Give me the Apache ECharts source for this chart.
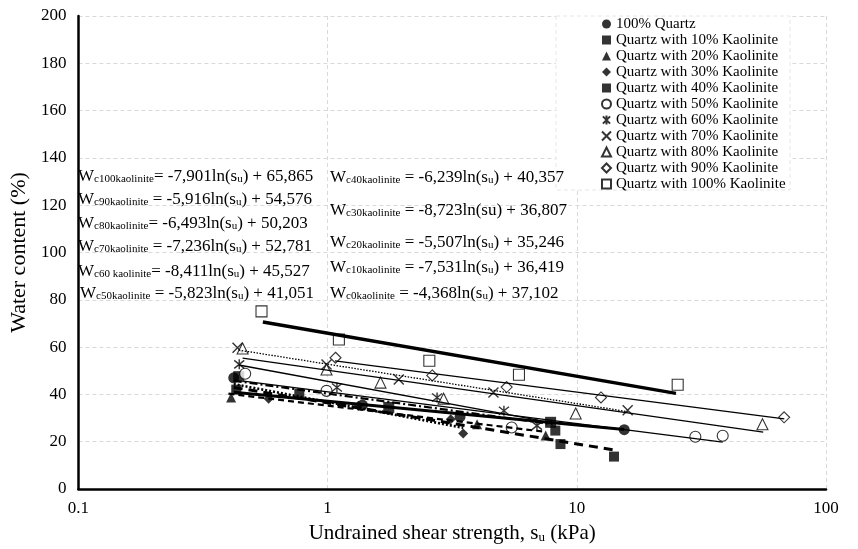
<!DOCTYPE html>
<html>
<head>
<meta charset="utf-8">
<script src="https://cdn.jsdelivr.net/npm/echarts@6/dist/echarts.min.js"></script>
<style>
  html, body { margin: 0; padding: 0; background: #fff; }
  #chart { width: 858px; height: 549px; }
</style>
</head>
<body>
<div id="chart"></div>
<script>
const FONT = '"Liberation Serif", "Times New Roman", "DejaVu Serif", serif';

// Series names (legend order)
const seriesNames = [
  '100% Quartz',
  'Quartz with 10% Kaolinite',
  'Quartz with 20% Kaolinite',
  'Quartz with 30% Kaolinite',
  'Quartz with 40% Kaolinite',
  'Quartz with 50% Kaolinite',
  'Quartz with 60% Kaolinite',
  'Quartz with 70% Kaolinite',
  'Quartz with 80% Kaolinite',
  'Quartz with 90% Kaolinite',
  'Quartz with 100% Kaolinite'
];

// Measured points: [su (kPa), water content (%)]
const k0   = [[0.42, 47.0], [1.38, 35.5], [3.4, 30.5], [15.5, 25.1]];
const k10  = [[0.43, 42.0], [0.77, 40.3], [8.2, 24.7], [8.6, 19.0], [14.1, 13.7]];
const k20  = [[0.41, 38.7], [3.98, 27.4], [7.5, 22.6]];
const k30  = [[0.58, 38.2], [1.33, 35.2], [3.12, 29.5], [3.5, 23.5]];
const k40  = [[0.44, 47.5], [1.76, 34.5], [7.85, 28.2]];
const k50  = [[0.467, 48.7], [0.99, 41.5], [5.48, 26.0], [29.9, 22.1], [38.5, 22.5]];
const k60  = [[0.442, 52.7], [1.09, 42.9], [2.75, 38.7], [5.1, 33.1], [6.92, 26.8]];
const k70  = [[0.435, 59.7], [0.99, 52.6], [1.93, 46.3], [4.63, 40.8], [16.0, 33.3]];
const k80  = [[0.456, 59.4], [0.99, 50.5], [1.63, 45.0], [2.92, 38.2], [9.9, 31.9], [55.6, 27.4]];
const k90  = [[1.076, 55.5], [2.63, 48.0], [5.23, 43.1], [12.5, 38.7], [67.9, 30.3]];
const k100 = [[0.543, 75.1], [1.11, 63.2], [2.56, 54.2], [5.86, 48.3], [25.4, 44.1]];
const pointSets = [k0, k10, k20, k30, k40, k50, k60, k70, k80, k90, k100];

// Logarithmic fits  W = a*ln(su) + b, with the su range each fit spans
const fitA = [-4.368, -7.531, -5.507, -8.723, -6.239, -5.823, -8.411, -7.236, -6.493, -5.916, -7.901];
const fitB = [37.102, 36.419, 35.246, 36.807, 40.357, 41.051, 45.527, 52.781, 50.203, 54.576, 65.865];
const fitFrom = [0.42, 0.42, 0.40, 0.42, 0.42, 0.46, 0.44, 0.44, 0.456, 1.07, 0.55];
const fitTo   = [15.5, 14.0, 7.5, 3.5, 8.0, 38.5, 7.0, 16.0, 56.0, 68.0, 25.0];

// Axis ticks
const xTicks = [0.1, 1, 10, 100];
const yTicks = [0, 20, 40, 60, 80, 100, 120, 140, 160, 180, 200];

// Equation labels: subscript after W, separator, whether "su" carries a subscript
const eqSub = ['c0kaolinite', 'c10kaolinite', 'c20kaolinite', 'c30kaolinite', 'c40kaolinite',
               'c50kaolinite', 'c60 kaolinite', 'c70kaolinite', 'c80kaolinite', 'c90kaolinite', 'c100kaolinite'];
const eqSep = [' = ', ' = ', ' = ', ' = ', ' = ', ' = ', '= ', ' = ', '= ', ' = ', '= '];
const eqSuSub = [true, true, true, false, true, true, true, true, true, true, true];

// Marker and line styling per series
const symbolX = 'path://M-4,-4L4,4M-4,4L4,-4';
const symbolStar = 'path://M-4,-4L4,4M-4,4L4,-4M0,-5L0,5';
const markerStyle = [
  { symbol: 'circle',   size: 11, fill: '#000' },
  { symbol: 'rect',     size: 10, fill: '#000' },
  { symbol: 'triangle', size: 10, fill: '#000' },
  { symbol: 'diamond',  size: 10, fill: '#000' },
  { symbol: 'rect',     size: 11, fill: '#000' },
  { symbol: 'circle',   size: 11, fill: '#fff' },
  { symbol: symbolStar, size: 10, fill: '#000' },
  { symbol: symbolX,    size: 10, fill: '#000' },
  { symbol: 'triangle', size: 11, fill: '#fff' },
  { symbol: 'diamond',  size: 11, fill: '#fff' },
  { symbol: 'rect',     size: 11, fill: '#fff' }
];
const lineStyles = [
  { width: 3,   type: 'solid' },
  { width: 3,   type: [9, 6] },
  { width: 2.2, type: [6, 4] },
  { width: 2.6, type: [2, 2] },
  { width: 2.2, type: [8, 3, 2, 3] },
  { width: 1.3, type: 'solid' },
  { width: 1.3, type: 'solid' },
  { width: 1.3, type: [1.5, 1.5] },
  { width: 1.3, type: 'solid' },
  { width: 1.3, type: 'solid' },
  { width: 3.5, type: 'solid' }
];

function fmt(v) {
  return v.toFixed(3).replace('.', ',');
}

const series = [];
pointSets.forEach((pts, i) => {
  const m = markerStyle[i];
  series.push({
    name: seriesNames[i],
    type: 'scatter',
    data: pts,
    symbol: m.symbol,
    symbolSize: m.size,
    itemStyle: { color: m.fill, borderColor: '#000', borderWidth: m.fill === '#fff' ? 1.1 : (m.symbol.startsWith('path') ? 1.4 : 0) },
    z: 2,
    silent: true
  });
});
pointSets.forEach((pts, i) => {
  const s1 = fitFrom[i], s2 = fitTo[i];
  series.push({
    name: 'fit ' + seriesNames[i],
    type: 'line',
    data: [[s1, fitA[i] * Math.log(s1) + fitB[i]], [s2, fitA[i] * Math.log(s2) + fitB[i]]],
    showSymbol: false,
    symbol: 'none',
    lineStyle: { color: '#000', width: lineStyles[i].width, type: lineStyles[i].type },
    z: 3,
    silent: true
  });
});

// Equation text blocks
const eqRich = {
  w: { fontFamily: FONT, fontSize: 17, color: '#000', verticalAlign: 'bottom', lineHeight: 22 },
  n: { fontFamily: FONT, fontSize: 17, color: '#000', verticalAlign: 'bottom', lineHeight: 22 },
  s: { fontFamily: FONT, fontSize: 11, color: '#000', verticalAlign: 'bottom', lineHeight: 11 }
};
function eqText(i) {
  const su = eqSuSub[i] ? '{n|ln(s}{s|u}{n|)}' : '{n|ln(su)}';
  return '{w|W}{s|' + eqSub[i] + '}{n|' + eqSep[i] + fmt(fitA[i]) + '}' + su +
         '{n| + ' + fmt(fitB[i]) + '}';
}
const leftCol = [10, 9, 8, 7, 6, 5];
const leftY = [174, 197, 221, 244, 269, 291];
const midCol = [4, 3, 2, 1, 0];
const midY = [175, 208, 240, 265, 291];
const graphics = [];
graphics.push({
  type: 'rect', z: 1,
  shape: { x: 556, y: 16, width: 234, height: 174 },
  style: { fill: '#fff', stroke: '#e6e6e6', lineWidth: 1, lineDash: [4, 3] }
});
leftCol.forEach((k, j) => {
  graphics.push({ type: 'text', z: 5, x: k === 5 ? 80 : 78, y: leftY[j],
    style: { text: eqText(k), rich: eqRich, verticalAlign: 'middle', align: 'left' } });
});
midCol.forEach((k, j) => {
  graphics.push({ type: 'text', z: 5, x: 330, y: midY[j],
    style: { text: eqText(k), rich: eqRich, verticalAlign: 'middle', align: 'left' } });
});

const chart = echarts.init(document.getElementById('chart'), null, { renderer: 'canvas' });
chart.setOption({
  animation: false,
  backgroundColor: '#fff',
  grid: { left: 76, right: 32, top: 16, bottom: 57, containLabel: false },
  xAxis: {
    type: 'log', logBase: 10, min: xTicks[0], max: xTicks[xTicks.length - 1],
    name: '{n|Undrained shear strength, s}{s|u}{n| (kPa)}',
    nameLocation: 'middle', nameGap: 31,
    nameTextStyle: {
      rich: {
        n: { fontFamily: FONT, fontSize: 21, color: '#000', verticalAlign: 'bottom', lineHeight: 24 },
        s: { fontFamily: FONT, fontSize: 13, color: '#000', verticalAlign: 'bottom', lineHeight: 12 }
      }
    },
    axisLine: { show: true, onZero: false, lineStyle: { color: '#000', width: 2.5 } },
    axisTick: { show: false },
    axisLabel: { fontFamily: FONT, fontSize: 17, color: '#000', margin: 11,
      formatter: v => String(xTicks.find(t => Math.abs(Math.log10(t) - Math.log10(v)) < 1e-6) ?? v) },
    splitLine: { show: true, lineStyle: { color: '#d9d9d9', type: [4, 3], width: 1 } }
  },
  yAxis: {
    type: 'value', min: yTicks[0], max: yTicks[yTicks.length - 1], interval: yTicks[1] - yTicks[0],
    name: 'Water content (%)', nameLocation: 'middle', nameGap: 43,
    nameTextStyle: { fontFamily: FONT, fontSize: 22, color: '#000' },
    axisLine: { show: true, lineStyle: { color: '#000', width: 2.5 } },
    axisTick: { show: false },
    axisLabel: { fontFamily: FONT, fontSize: 17, color: '#000', margin: 12 },
    splitLine: { show: true, lineStyle: { color: '#d9d9d9', type: [4, 3], width: 1 } }
  },
  legend: {
    data: seriesNames,
    orient: 'vertical', left: 601, top: 16, padding: 0,
    itemWidth: 9, itemHeight: 9, itemGap: 0,
    selectedMode: false,
    textStyle: { fontFamily: FONT, fontSize: 15, color: '#000', lineHeight: 16 }
  },
  graphic: graphics,
  series: series
});
</script>
</body>
</html>
